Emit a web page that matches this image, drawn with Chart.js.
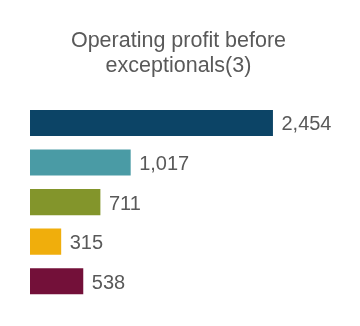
<!DOCTYPE html>
<html>
<head>
<meta charset="utf-8">
<script src="https://cdn.jsdelivr.net/npm/chart.js@4/dist/chart.umd.min.js"></script>
<style>
html,body{margin:0;padding:0;background:#fff;}
#wrap{width:360px;height:326px;position:relative;}
</style>
</head>
<body>
<div id="wrap"><canvas id="c" width="360" height="326"></canvas></div>
<script>
const categories = ["A", "B", "C", "D", "E"];
const values = [2454, 1017, 711, 315, 538];
const valueLabels = ["2,454", "1,017", "711", "315", "538"];
const barColors = ["#0c4466", "#4a9ba5", "#83952b", "#f0ae0c", "#731039"];
const titleLines = ["Operating profit before", "exceptionals(3)"];

const FONT = "'Liberation Sans', Arial, sans-serif";

const valueLabelPlugin = {
  id: 'valueLabels',
  afterDatasetsDraw(chart) {
    const ctx = chart.ctx;
    const meta = chart.getDatasetMeta(0);
    ctx.save();
    ctx.font = "20px " + FONT;
    ctx.fillStyle = "#595959";
    ctx.textAlign = "left";
    ctx.textBaseline = "middle";
    meta.data.forEach((bar, i) => {
      ctx.fillText(valueLabels[i], bar.x + 8.5, bar.y + 2);
    });
    ctx.restore();
  }
};

new Chart(document.getElementById('c'), {
  type: 'bar',
  data: {
    labels: categories,
    datasets: [{
      data: values,
      backgroundColor: barColors,
      borderWidth: 0,
      barPercentage: 0.66,
      categoryPercentage: 1.0
    }]
  },
  options: {
    indexAxis: 'y',
    responsive: false,
    animation: false,
    devicePixelRatio: 1,
    layout: { padding: { left: 30, right: 33, top: 0, bottom: 25 } },
    scales: {
      x: { display: false, min: 0, max: 3000 },
      y: { display: false }
    },
    plugins: {
      legend: { display: false },
      tooltip: { enabled: false },
      title: {
        display: true,
        text: titleLines,
        color: "#595959",
        font: { family: FONT, size: 21.5, weight: 'normal', lineHeight: 1.19 },
        padding: { top: 28, bottom: 24 }
      }
    }
  },
  plugins: [valueLabelPlugin]
});
</script>
</body>
</html>
